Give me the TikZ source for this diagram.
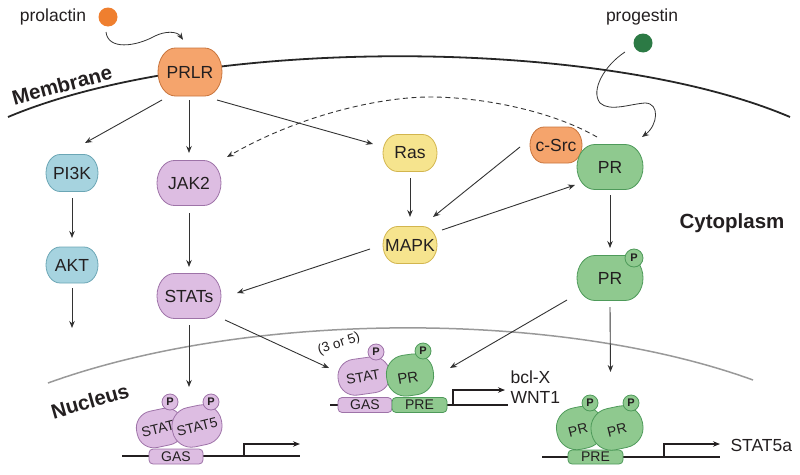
\documentclass[tikz,border=0pt]{standalone}
\usepackage{fontspec}
\setmainfont{Liberation Sans}
\usetikzlibrary{arrows.meta,calc}
\definecolor{orf}{HTML}{F5A46C}
\definecolor{ord}{HTML}{C8743C}
\definecolor{ligo}{HTML}{EF7F2F}
\definecolor{grf}{HTML}{8FC98F}
\definecolor{grd}{HTML}{4E9A5A}
\definecolor{ligg}{HTML}{2C7A45}
\definecolor{puf}{HTML}{DDBDE2}
\definecolor{pud}{HTML}{9E73A8}
\definecolor{blf}{HTML}{A6D3DF}
\definecolor{bld}{HTML}{6BA6B5}
\definecolor{yef}{HTML}{F6E48E}
\definecolor{yed}{HTML}{D2B54E}
\definecolor{txt}{HTML}{231F20}
\definecolor{arc}{HTML}{333333}
\tikzset{
  protline/.style={line width=0.8pt},
  orp/.style={protline, fill=orf, draw=ord},
  grp/.style={protline, fill=grf, draw=grd},
  pup/.style={protline, fill=puf, draw=pud},
  blp/.style={protline, fill=blf, draw=bld},
  yep/.style={protline, fill=yef, draw=yed},
  prottext/.style={inner sep=0pt, text=txt, font=\fontsize{17.5}{20}\selectfont},
  blob/.style={draw, rounded corners=17pt, inner sep=0pt, line width=0.8pt, text=txt,
    font=\fontsize{14}{16}\selectfont},
  blobtext/.style={text=txt, font=\fontsize{14}{16}\selectfont},
  pcirc/.style={circle, draw, line width=0.8pt, minimum size=17pt, inner sep=0pt, text=txt,
    font=\bfseries\fontsize{11}{11}\selectfont},
  sitebox/.style={draw, rounded corners=4pt, inner sep=0pt, line width=0.8pt, text=txt,
    minimum height=15pt, minimum width=54pt, font=\fontsize{14}{16}\selectfont},
  arr/.style={draw=arc, line width=0.9pt, -{Stealth[length=7pt,width=5.5pt]}},
  dasharr/.style={arr, dash pattern=on 5pt off 3.5pt},
  dna/.style={draw=txt, line width=1.8pt},
  tss/.style={draw=txt, line width=1.1pt, -{Stealth[length=7pt,width=5.5pt]}},
  lbl/.style={text=txt, font=\bfseries\fontsize{20.5}{22}\selectfont},
  plain/.style={text=txt, font=\fontsize{17.5}{20}\selectfont},
  lig/.style={circle, inner sep=0pt, minimum size=19pt}
}
% #1 style, #2 name, #3 x, #4 y, #5 width, #6 height, #7 text
\newcommand\protcap[7]{%
  \pgfmathsetmacro\cpRx{0.27*#5}%
  \draw[#1] ({#3-#5/2+\cpRx},{#4-#6/2}) -- ({#3+#5/2-\cpRx},{#4-#6/2})
    arc[start angle=-90, end angle=90, x radius=\cpRx, y radius=#6/2]
    -- ({#3-#5/2+\cpRx},{#4+#6/2})
    arc[start angle=90, end angle=270, x radius=\cpRx, y radius=#6/2] -- cycle;
  \node[prottext, minimum width=#5pt, minimum height=#6pt] (#2) at (#3,#4) {#7};
}
\begin{document}
\begin{tikzpicture}[x=1pt,y=-1pt]
\useasboundingbox (0,0) rectangle (800,474);
% membranes
\draw[line width=1.8pt, black!85] (8,117) .. controls (200,36) and (600,36) .. (790,117);
\draw[line width=1.5pt, black!40] (48,383) .. controls (250,310) and (560,310) .. (753,380);
% region labels
\node[lbl, rotate=15] (memlbl) at (62,85) {Membrane};
\node[lbl, rotate=16] (nuclbl) at (90,401) {Nucleus};
\node[lbl] (cytlbl) at (732,223) {Cytoplasm};
% ligands
\node[plain] (prltxt) at (53,17) {prolactin};
\node[lig, fill=ligo] (prl) at (108,17) {};
\node[plain] (prgtxt) at (642,17) {progestin};
\node[lig, fill=ligg] (prg) at (643,43) {};
% proteins
\protcap{orp}{prlr}{190}{72}{64}{48}{PRLR}
\protcap{blp}{pi3k}{72}{173}{52}{37}{PI3K}
\protcap{blp}{akt}{72}{265}{52}{36}{AKT}
\protcap{pup}{jak2}{189}{183}{64}{45}{JAK2}
\protcap{pup}{stats}{189}{296}{64}{45}{STATs}
\protcap{yep}{ras}{410}{153}{54}{37}{Ras}
\protcap{yep}{mapk}{410}{245}{54}{37}{MAPK}
\protcap{orp}{csrc}{556}{145}{52}{36}{c-Src}
\protcap{grp}{pr}{610}{167}{66}{45}{PR}
\protcap{grp}{prp}{610}{278}{66}{45}{PR}
\node[pcirc, fill=grf, draw=grd, minimum size=18pt] (prpP) at (634,258) {P};
% ligand arrows
\draw[arr, line width=0.8pt] ($(prl)+(-2,15)$) .. controls (108,50) and (135,47) .. (155,36)
  .. controls (165,31) and (177,31) .. ($(prlr.north)+(-7,-8)$);
\draw[arr, line width=0.8pt] ($(prg)+(-18,9)$) .. controls (605,65) and (590,90) .. (600,103)
  .. controls (610,112) and (630,104) .. (645,103)
  .. controls (660,103) and (658,125) .. ($(pr)+(32,-30)$);
% signalling arrows
\draw[arr] ($(prlr)+(-28,28)$) -- ($(pi3k)+(13,-30)$);
\draw[arr] ($(prlr)+(-1,28)$) -- ($(jak2)+(0,-30)$);
\draw[arr] ($(prlr)+(27,28)$) -- ($(ras)+(-37,-9)$);
\draw[arr] ($(pi3k)+(0,25)$) -- ($(akt)+(0,-27)$);
\coordinate (aktout) at ($(akt)+(0,63)$);
\draw[arr] ($(akt)+(0,23)$) -- (aktout);
\draw[arr] ($(jak2)+(0,30)$) -- ($(stats)+(0,-29)$);
\draw[arr] ($(ras)+(0,25)$) -- ($(mapk)+(0,-28)$);
\draw[arr] ($(csrc)+(-36,2)$) -- ($(mapk)+(23,-28)$);
\draw[arr] ($(mapk)+(32,-15)$) -- ($(pr)+(-35,18)$);
\draw[arr] ($(mapk)+(-40,4)$) -- ($(stats)+(48,-3)$);
\draw[arr] ($(pr)+(0,28)$) -- ($(prp)+(0,-30)$);
\draw[dasharr] ($(pr)+(-13,-30)$) .. controls (550,110) and (480,97) .. (430,97)
  .. controls (380,97) and (300,115) .. ($(jak2)+(38,-26)$);
% ---- middle complex
\draw[dna] (330,405) -- (508,405);
\node[sitebox, fill=puf, draw=pud] (gas1) at (365,405) {GAS};
\node[sitebox, fill=grf, draw=grd, minimum width=55pt] (pre1) at (419.5,405) {PRE};
\coordinate (tss1) at (453,405);
\draw[tss] (tss1) -- ++(0,-15) -- ++(52,0);
\node[plain, anchor=west, align=left] (gene1) at (507,387) {bcl-X\\WNT1};
\node[blob, fill=puf, draw=pud, minimum width=52pt, minimum height=36pt, rotate=8] (statc) at (364,376) {};
\node[blobtext, rotate=10] at (363,377) {STAT};
\node[pcirc, fill=puf, draw=pud, minimum size=16pt] (statcP) at (376,352) {P};
\node[blob, fill=grf, draw=grd, minimum width=47pt, minimum height=41pt, rotate=8, rounded corners=19pt] (prc) at (410,375) {};
\node[blobtext, font=\fontsize{15}{16}\selectfont, rotate=10] at (408,378) {PR};
\node[pcirc, fill=grf, draw=grd, minimum size=16pt] (prcP) at (423,351) {P};
\node[text=txt, font=\fontsize{13.5}{15}\selectfont, rotate=18] (lbl35) at (339,344) {(3 or 5)};
\draw[arr] ($(stats)+(36,24)$) -- ($(statc)+(-35,-8)$);
\draw[arr] ($(prp)+(-43,22)$) -- ($(prc)+(40,-7)$);
% ---- left dimer
\draw[dna] (122,456) -- (300,456);
\node[sitebox, fill=puf, draw=pud] (gas2) at (176,456.5) {GAS};
\coordinate (tss2) at (244,456);
\draw[tss] (tss2) -- ++(0,-12) -- ++(56,0);
\node[blob, fill=puf, draw=pud, minimum width=47pt, minimum height=37pt, rotate=12] (dst1) at (160,428) {};
\node[blobtext, rotate=14] at (158,429) {STAT};
\node[blob, fill=puf, draw=pud, minimum width=50pt, minimum height=40pt, rotate=12, rounded corners=19pt] (dst2) at (197,426) {};
\node[blobtext, rotate=14] at (197,427) {STAT5};
\node[pcirc, fill=puf, draw=pud, minimum size=16pt] (dst1P) at (170,402) {P};
\node[pcirc, fill=puf, draw=pud, minimum size=16pt] (dst2P) at (211,402) {P};
\draw[arr] ($(stats)+(0,29)$) -- ($(dst1)+(29,-41)$);
% ---- right dimer
\draw[dna] (542,457) -- (720,457);
\node[sitebox, fill=grf, draw=grd, minimum width=55pt, minimum height=14pt] (pre2) at (595.5,457) {PRE};
\coordinate (tss3) at (664,457);
\draw[tss] (tss3) -- ++(0,-13) -- ++(56,0);
\node[plain, anchor=west] (gene2) at (727,445) {STAT5a};
\node[blob, fill=grf, draw=grd, minimum width=47pt, minimum height=42pt, rotate=12, rounded corners=20pt] (dpr1) at (580,428) {};
\node[blobtext, rotate=14] at (578,430) {PR};
\node[blob, fill=grf, draw=grd, minimum width=52pt, minimum height=42pt, rotate=12, rounded corners=20pt] (dpr2) at (617,428) {};
\node[blobtext, rotate=14] at (617,430) {PR};
\node[pcirc, fill=grf, draw=grd, minimum size=16pt] (dpr1P) at (590,403) {P};
\node[pcirc, fill=grf, draw=grd, minimum size=16pt] (dpr2P) at (631,403) {P};
\draw[arr] ($(prp)+(0,29)$) -- ($(dpr1)!0.5!(dpr2)+(12,-56)$);
\end{tikzpicture}
\end{document}
